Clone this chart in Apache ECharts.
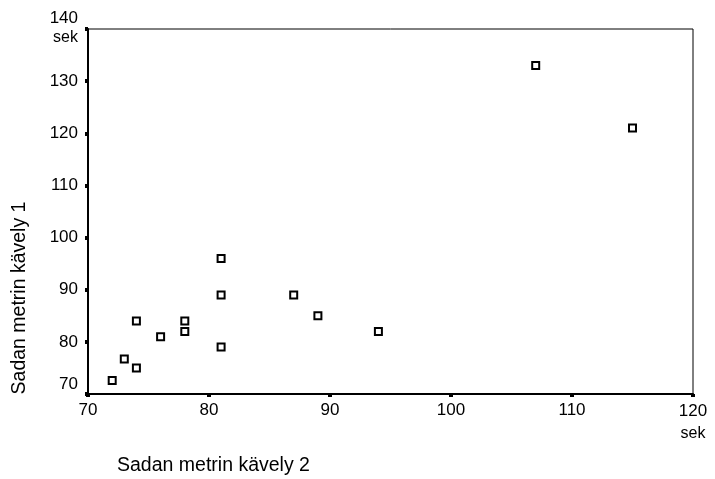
<!DOCTYPE html>
<html>
<head>
<meta charset="utf-8">
<script src="https://cdn.jsdelivr.net/npm/echarts@6/dist/echarts.min.js"></script>
<style>
  html, body { margin: 0; padding: 0; background: #fff; }
  #chart { width: 715px; height: 479px; }
</style>
</head>
<body>
<div id="chart"></div>
<script>
// walk times (s): run 2 on x, run 1 on y
const walk2 = [107, 115, 81, 81, 87, 89, 78, 78, 94, 81, 74, 76, 73, 74, 72]
const walk1 = [133, 121, 96, 89, 89, 85, 84, 82, 82, 79, 84, 81, 76.7, 75, 72.6]

const xTitle = 'Sadan metrin kävely 2'
const yTitle = 'Sadan metrin kävely 1'
const unit = 'sek'

const font = 'Liberation Sans, Arial, sans-serif'

const chart = echarts.init(document.getElementById('chart'))

const option = {
  animation: false,
  grid: {
    left: 88,
    right: 22,
    top: 29,
    bottom: 85,
    show: true,
    borderColor: '#000',
    borderWidth: 1,
  },
  xAxis: {
    type: 'value',
    min: 70,
    max: 120,
    interval: 10,
    axisLine: { lineStyle: { color: '#000', width: 2 } },
    axisTick: { length: 3, lineStyle: { color: '#000', width: 4 } },
    splitLine: { show: false },
    axisLabel: {
      color: '#000',
      fontFamily: font,
      fontSize: 17,
      margin: 8,
      formatter: (v) => (v === 120 ? '{v|120}\n{u|' + unit + '}' : String(v)),
      rich: {
        v: { fontFamily: font, fontSize: 17, lineHeight: 18, color: '#000' },
        u: { fontFamily: font, fontSize: 16, lineHeight: 28, color: '#000' },
      },
    },
  },
  yAxis: {
    type: 'value',
    min: 70,
    max: 140,
    interval: 10,
    axisLine: { lineStyle: { color: '#000', width: 2 } },
    axisTick: { length: 3, lineStyle: { color: '#000', width: 4 } },
    splitLine: { show: false },
    axisLabel: {
      color: '#000',
      fontFamily: font,
      fontSize: 17,
      margin: 10,
      formatter: (v) => {
        if (v === 140) return '{v|140}\n{u|' + unit + '}'
        if (v === 70) return '{low|70}'
        return String(v)
      },
      rich: {
        v: { fontFamily: font, fontSize: 17, lineHeight: 18, color: '#000', align: 'right' },
        u: { fontFamily: font, fontSize: 16, lineHeight: 22, color: '#000', align: 'right' },
        low: { fontFamily: font, fontSize: 17, color: '#000', padding: [0, 0, 20, 0] },
      },
    },
  },
  graphic: [
    {
      type: 'text',
      x: 20,
      y: 298,
      rotation: Math.PI / 2,
      style: {
        text: yTitle,
        font: '19.5px ' + font,
        fill: '#000',
        textAlign: 'center',
        textVerticalAlign: 'middle',
      },
    },
    {
      type: 'text',
      x: 117,
      y: 466,
      style: {
        text: xTitle,
        font: '19.5px ' + font,
        fill: '#000',
        textAlign: 'left',
        textVerticalAlign: 'middle',
      },
    },
  ],
  series: [
    {
      type: 'scatter',
      symbol: 'rect',
      symbolSize: 7,
      itemStyle: { color: '#fff', borderColor: '#000', borderWidth: 2, opacity: 1 },
      data: walk2.map((x, i) => [x, walk1[i]]),
    },
  ],
}

chart.setOption(option)
</script>
</body>
</html>
